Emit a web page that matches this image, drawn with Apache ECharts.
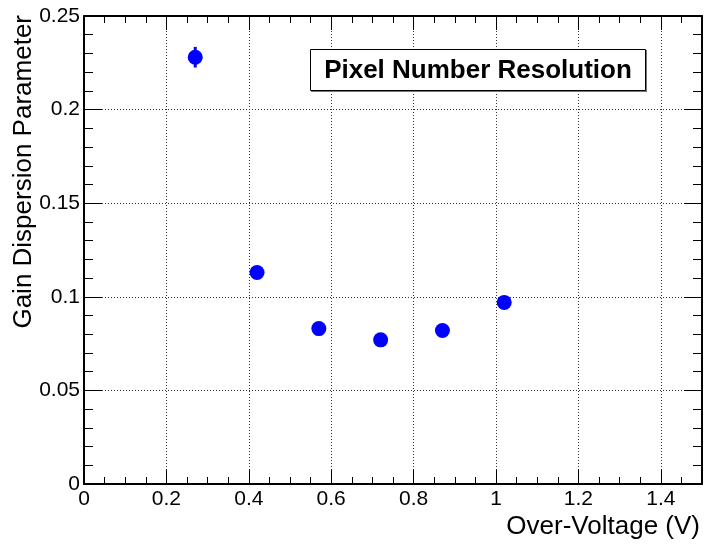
<!DOCTYPE html>
<html>
<head>
<meta charset="utf-8">
<script src="https://cdn.jsdelivr.net/npm/echarts@6/dist/echarts.min.js"></script>
<style>
  html, body { margin: 0; padding: 0; background: #fff; }
  #chart { width: 705px; height: 545px; }
</style>
</head>
<body>
<div id="chart"></div>
<script>
// Gain dispersion versus over-voltage
const overVoltage = [0.27, 0.42, 0.57, 0.72, 0.87, 1.02];
const gainDispersion = [0.228, 0.113, 0.083, 0.077, 0.082, 0.097];
const dispersionError = [0.0055, 0.002, 0.002, 0.002, 0.002, 0.002];

const xTickLabels = ['0', '0.2', '0.4', '0.6', '0.8', '1', '1.2', '1.4'];
const yTickLabels = ['0', '0.05', '0.1', '0.15', '0.2', '0.25'];

const xTitle = 'Over-Voltage (V)';
const yTitle = 'Gain Dispersion Parameter';
const boxTitle = 'Pixel Number Resolution';

const FONT = '"Liberation Sans", Arial, Helvetica, sans-serif';
const X_MIN = 0, X_MAX = 1.5, Y_MIN = 0, Y_MAX = 0.25;

function labelFor(list, v) {
  const hit = list.find(s => Math.abs(parseFloat(s) - v) < 1e-9);
  return hit === undefined ? '' : hit;
}

function xAxisDef(position, interval, tickLen, major) {
  return {
    type: 'value', position: position, min: X_MIN, max: X_MAX, interval: interval,
    axisLine: { show: major, onZero: false, lineStyle: { color: '#000', width: 2 } },
    axisTick: { show: true, inside: true, length: tickLen, lineStyle: { color: '#000', width: 1 } },
    axisLabel: {
      show: major && position === 'bottom', margin: 5, color: '#000', fontSize: 21, fontFamily: FONT,
      formatter: v => labelFor(xTickLabels, v)
    },
    splitLine: { show: major && position === 'bottom', lineStyle: { color: '#333', width: 1, type: [1, 2] } }
  };
}

function yAxisDef(position, interval, tickLen, major) {
  return {
    type: 'value', position: position, min: Y_MIN, max: Y_MAX, interval: interval,
    axisLine: { show: major, onZero: false, lineStyle: { color: '#000', width: 2 } },
    axisTick: { show: true, inside: true, length: tickLen, lineStyle: { color: '#000', width: 1 } },
    axisLabel: {
      show: major && position === 'left', margin: 4, color: '#000', fontSize: 21, fontFamily: FONT,
      formatter: v => labelFor(yTickLabels, v)
    },
    splitLine: { show: major && position === 'left', lineStyle: { color: '#333', width: 1, type: [1, 2] } }
  };
}

const chart = echarts.init(document.getElementById('chart'), null, { renderer: 'canvas' });

const points = overVoltage.map((x, i) => [x, gainDispersion[i], dispersionError[i]]);

chart.setOption({
  animation: false,
  backgroundColor: '#fff',
  grid: { left: 84, right: 2, top: 16, bottom: 61, containLabel: false },
  xAxis: [
    xAxisDef('bottom', 0.2, 14, true),
    xAxisDef('bottom', 0.05, 7, false),
    xAxisDef('top', 0.2, 14, true),
    xAxisDef('top', 0.05, 7, false)
  ],
  yAxis: [
    yAxisDef('left', 0.05, 18, true),
    yAxisDef('left', 0.01, 9, false),
    yAxisDef('right', 0.05, 18, true),
    yAxisDef('right', 0.01, 9, false)
  ],
  series: [
    {
      type: 'custom',
      xAxisIndex: 0, yAxisIndex: 0,
      data: points,
      z: 3,
      renderItem: function (params, api) {
        const x = api.value(0), y = api.value(1), e = api.value(2);
        const lo = api.coord([x, y - e]);
        const hi = api.coord([x, y + e]);
        return {
          type: 'line',
          shape: { x1: lo[0], y1: lo[1], x2: hi[0], y2: hi[1] },
          style: { stroke: '#0000ff', lineWidth: 3 }
        };
      }
    },
    {
      type: 'scatter',
      xAxisIndex: 0, yAxisIndex: 0,
      data: points.map(p => [p[0], p[1]]),
      symbol: 'circle',
      symbolSize: 15,
      itemStyle: { color: '#0000ff', opacity: 1 },
      z: 4
    }
  ],
  graphic: [
    {
      type: 'rect', left: 311, top: 50, z: 10,
      shape: { width: 336, height: 42 },
      style: { fill: '#777' }
    },
    {
      type: 'rect', left: 310, top: 49, z: 11,
      shape: { width: 335, height: 41 },
      style: { fill: '#fff', stroke: '#000', lineWidth: 1 }
    },
    {
      type: 'text', x: 478, y: 71, z: 12,
      style: {
        text: boxTitle, fill: '#000', font: 'bold 26px ' + FONT,
        align: 'center', verticalAlign: 'middle'
      }
    },
    {
      type: 'text', x: 700, y: 527, z: 12,
      style: {
        text: xTitle, fill: '#000', font: '26px ' + FONT,
        align: 'right', verticalAlign: 'middle'
      }
    },
    {
      type: 'text', x: 24, y: 15, rotation: Math.PI / 2, z: 12,
      style: {
        text: yTitle, fill: '#000', font: '26px ' + FONT,
        align: 'right', verticalAlign: 'middle'
      }
    }
  ]
});
</script>
</body>
</html>
